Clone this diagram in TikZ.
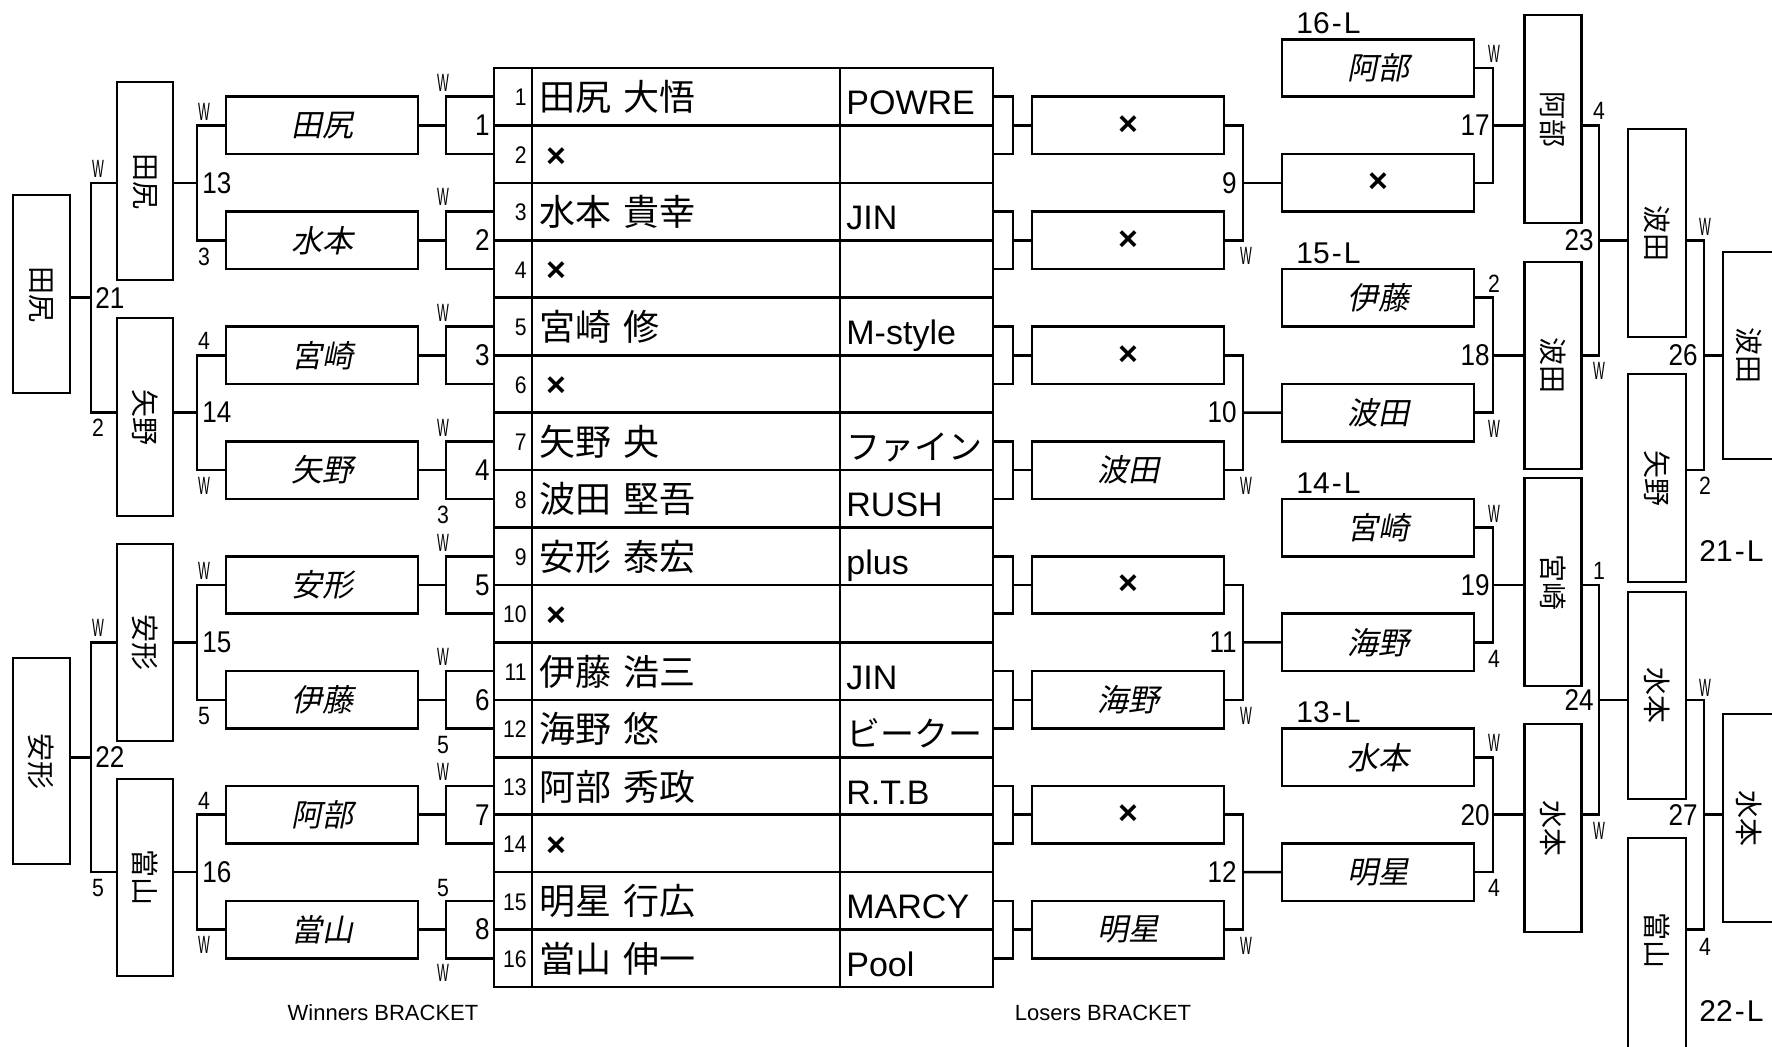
\documentclass[tikz,border=0pt]{standalone}
\usepackage{fontspec}
\setmainfont{Liberation Sans}
\newfontfamily\cjk{Noto Sans CJK JP}
\newfontfamily\cjkit[FakeSlant=0.2]{Noto Sans CJK JP}
\usetikzlibrary{calc}
\newcommand\pxu{0.5pt}
\begin{document}
\begin{tikzpicture}[x=0.5pt,y=-0.5pt,
  bx/.style={draw,line width=1.3pt,inner sep=0pt,outer sep=0pt,rectangle},
  ln/.style={line width=1.3pt},
  itn/.style={font=\cjkit\fontsize{15.5}{15.5}\selectfont,inner sep=0pt},
  vtn/.style={font=\cjk\fontsize{14}{14}\selectfont,rotate=-90,inner sep=0pt},
  wl/.style={font=\fontsize{12.5}{12.5}\selectfont,xscale=0.5,inner sep=0pt},
  sc/.style={font=\fontsize{12.5}{12.5}\selectfont,xscale=0.85,inner sep=0pt},
  num/.style={font=\fontsize{15}{15}\selectfont,xscale=0.87,inner sep=0pt},
  xm/.style={font=\bfseries\fontsize{17}{17}\selectfont,inner sep=0pt},
  lbl/.style={font=\fontsize{15}{15}\selectfont,inner sep=0pt,anchor=base west},
  capt/.style={font=\fontsize{11}{11}\selectfont,inner sep=0pt,anchor=base},
  seed/.style={font=\fontsize{12}{12}\selectfont,xscale=0.88,inner sep=0pt},
  pname/.style={font=\cjk\fontsize{18}{18}\selectfont,inner sep=0pt,anchor=base west},
  team/.style={font=\fontsize{17}{17}\selectfont,inner sep=0pt,anchor=base west},
  pair/.style={bx,minimum width=192*\pxu,minimum height=57.44*\pxu}
]
\fill[white] (0,0) rectangle (1772,1046);
\useasboundingbox (0,0) rectangle (1772,1046);

% ---------- table ----------
\foreach \i in {1,...,16}{
  \pgfmathsetmacro{\yc}{68+(\i-0.5)*57.44}
  \node[bx,minimum width=38*\pxu,minimum height=57.44*\pxu] (nc\i) at (513,\yc) {};
  \node[bx,minimum width=308*\pxu,minimum height=57.44*\pxu] (mc\i) at (686,\yc) {};
  \node[bx,minimum width=153*\pxu,minimum height=57.44*\pxu] (tc\i) at (916.5,\yc) {};
  \node[seed,anchor=east] (sd\i) at (527,\yc+1) {\i};
}
\foreach \i/\fa/\gv in {1/田尻/大悟,3/水本/貴幸,5/宮崎/修,7/矢野/央,8/波田/堅吾,9/安形/泰宏,11/伊藤/浩三,12/海野/悠,13/阿部/秀政,15/明星/行広,16/當山/伸一}{
  \pgfmathsetmacro{\yc}{68+(\i-0.5)*57.44}
  \node[pname] (pn\i) at (539,\yc+14) {\fa\hspace{6pt}\gv};
}
\foreach \i in {2,4,6,10,14}{
  \pgfmathsetmacro{\yc}{68+(\i-0.5)*57.44}
  \node[xm] (pn\i) at (556,\yc+3) {×};
}
\foreach \i/\tm in {1/POWRE,3/JIN,5/M-style,7/{\cjk ファイン},8/RUSH,9/plus,11/JIN,12/{\cjk ビークー},13/R.T.B,15/MARCY,16/Pool}{
  \pgfmathsetmacro{\yc}{68+(\i-0.5)*57.44}
  \node[team] (tm\i) at (846,\yc+18) {\tm};
}

% ---------- winners: round 1 brackets and round 2 boxes ----------
\foreach \k in {1,...,8}{
  \pgfmathsetmacro{\yb}{68+(2*\k-1)*57.44}
  \pgfmathtruncatemacro{\ia}{2*\k-1}
  \pgfmathtruncatemacro{\ib}{2*\k}
  \node[pair] (w\k) at (322,\yb) {};
  \coordinate (jr\k) at (446,\yb);
  \draw[ln] (nc\ia.west) -| (jr\k) |- (nc\ib.west);
  \draw[ln] (w\k.east) -- (jr\k);
  \node[num,anchor=east] (rn\k) at (490,\yb) {\k};
}
\foreach \k/\nm in {1/田尻,2/水本,3/宮崎,4/矢野,5/安形,6/伊藤,7/阿部,8/當山}{
  \node[itn] (wt\k) at (w\k) {\nm};
}

% semis and final boxes
\node[bx,minimum width=56*\pxu,minimum height=198*\pxu] (ws1) at (145,181) {};
\node[bx,minimum width=56*\pxu,minimum height=198*\pxu] (ws2) at (145,417) {};
\node[bx,minimum width=56*\pxu,minimum height=197*\pxu] (ws3) at (145,642.5) {};
\node[bx,minimum width=56*\pxu,minimum height=197*\pxu] (ws4) at (145,877.5) {};
\node[bx,minimum width=57*\pxu,minimum height=198*\pxu] (wf1) at (41.5,294) {};
\node[bx,minimum width=57*\pxu,minimum height=206*\pxu] (wf2) at (41.5,761) {};
\node[vtn] (wst1) at (ws1) {田尻};
\node[vtn] (wst2) at (ws2) {矢野};
\node[vtn] (wst3) at (ws3) {安形};
\node[vtn] (wst4) at (ws4) {當山};
\node[vtn] (wft1) at (wf1) {田尻};
\node[vtn] (wft2) at (wf2) {安形};

\coordinate (j13) at (197,182.88);
\coordinate (j14) at (197,412.64);
\coordinate (j15) at (197,642.4);
\coordinate (j16) at (197,872.16);
\draw[ln] (w1.west) -| (j13) |- (w2.west);
\draw[ln] (w3.west) -| (j14) |- (w4.west);
\draw[ln] (w5.west) -| (j15) |- (w6.west);
\draw[ln] (w7.west) -| (j16) |- (w8.west);
\draw[ln] (j13) -- (j13 -| ws1.east);
\draw[ln] (j14) -- (j14 -| ws2.east);
\draw[ln] (j15) -- (j15 -| ws3.east);
\draw[ln] (j16) -- (j16 -| ws4.east);
\coordinate (j21) at (91,297.76);
\coordinate (j22) at (91,757.28);
\draw[ln] (j13 -| ws1.west) -| (j21) |- (j14 -| ws2.west);
\draw[ln] (j15 -| ws3.west) -| (j22) |- (j16 -| ws4.west);
\draw[ln] (j21) -- (j21 -| wf1.east);
\draw[ln] (j22) -- (j22 -| wf2.east);

\node[num,anchor=west] (g13) at (202,182.88) {13};
\node[num,anchor=west] (g14) at (202,412.64) {14};
\node[num,anchor=west] (g15) at (202,642.4) {15};
\node[num,anchor=west] (g16) at (202,872.16) {16};
\node[num,anchor=west] (g21) at (95,297.76) {21};
\node[num,anchor=west] (g22) at (95,757.28) {22};

% W / score labels, winners side
\foreach \x/\y/\t [count=\c] in {443/83/W,443/197/W,443/313/W,443/428/W,443/543/W,443/657/W,443/772/W,443/973/W,
  204/112/W,204/486/W,204/571/W,204/945/W,98/169/W,98/628/W}{
  \node[wl] (wa\c) at (\x,\y) {\t};
}
\foreach \x/\y/\t [count=\c] in {443/515/3,443/745/5,443/888/5,204/257/3,204/341/4,204/716/5,204/801/4,98/428/2,98/888/5}{
  \node[sc] (sa\c) at (\x,\y) {\t};
}

% ---------- losers: round 1 ----------
\foreach \k in {1,...,8}{
  \pgfmathsetmacro{\yb}{68+(2*\k-1)*57.44}
  \pgfmathtruncatemacro{\ia}{2*\k-1}
  \pgfmathtruncatemacro{\ib}{2*\k}
  \node[pair] (la\k) at (1128,\yb) {};
  \coordinate (jl\k) at (1013,\yb);
  \draw[ln] (tc\ia.east) -| (jl\k) |- (tc\ib.east);
  \draw[ln] (jl\k) -- (la\k.west);
}
\foreach \k in {1,2,3,5,7}{ \node[xm] (lat\k) at (la\k) {×}; }
\node[itn] (lat4) at (la4) {波田};
\node[itn] (lat6) at (la6) {海野};
\node[itn] (lat8) at (la8) {明星};

% losers round 2 boxes
\foreach \k in {1,...,8}{
  \pgfmathsetmacro{\yb}{68+(2*\k-2)*57.44}
  \node[pair] (lb\k) at (1378,\yb) {};
}
\node[itn] (lbt1) at (lb1) {阿部};
\node[xm] (lbt2) at (lb2) {×};
\node[itn] (lbt3) at (lb3) {伊藤};
\node[itn] (lbt4) at (lb4) {波田};
\node[itn] (lbt5) at (lb5) {宮崎};
\node[itn] (lbt6) at (lb6) {海野};
\node[itn] (lbt7) at (lb7) {水本};
\node[itn] (lbt8) at (lb8) {明星};
\node[lbl] (ll16) at (1296,33) {16\kern1pt-\kern1pt L};
\node[lbl] (ll15) at (1296,263) {15\kern1pt-\kern1pt L};
\node[lbl] (ll14) at (1296,493) {14\kern1pt-\kern1pt L};
\node[lbl] (ll13) at (1296,722) {13\kern1pt-\kern1pt L};

\coordinate (j9) at (1243,182.88);
\coordinate (j10) at (1243,412.64);
\coordinate (j11) at (1243,642.4);
\coordinate (j12) at (1243,872.16);
\draw[ln] (la1.east) -| (j9) |- (la2.east);
\draw[ln] (la3.east) -| (j10) |- (la4.east);
\draw[ln] (la5.east) -| (j11) |- (la6.east);
\draw[ln] (la7.east) -| (j12) |- (la8.east);
\draw[ln] (j9) -- (lb2.west);
\draw[ln] (j10) -- (lb4.west);
\draw[ln] (j11) -- (lb6.west);
\draw[ln] (j12) -- (lb8.west);
\node[num,anchor=east] (g9) at (1237,182.88) {9};
\node[num,anchor=east] (g10) at (1237,412.64) {10};
\node[num,anchor=east] (g11) at (1237,642.4) {11};
\node[num,anchor=east] (g12) at (1237,872.16) {12};

% losers round 3 boxes
\node[bx,minimum width=57*\pxu,minimum height=208*\pxu] (lc1) at (1553,119) {};
\node[bx,minimum width=57*\pxu,minimum height=207*\pxu] (lc2) at (1553,365.5) {};
\node[bx,minimum width=57*\pxu,minimum height=208*\pxu] (lc3) at (1553,582) {};
\node[bx,minimum width=57*\pxu,minimum height=208*\pxu] (lc4) at (1553,828) {};
\node[vtn] (lct1) at (lc1) {阿部};
\node[vtn] (lct2) at (lc2) {波田};
\node[vtn] (lct3) at (lc3) {宮崎};
\node[vtn] (lct4) at (lc4) {水本};

\coordinate (j17) at (1493,125.44);
\coordinate (j18) at (1493,355.2);
\coordinate (j19) at (1493,584.96);
\coordinate (j20) at (1493,814.72);
\draw[ln] (lb1.east) -| (j17) |- (lb2.east);
\draw[ln] (lb3.east) -| (j18) |- (lb4.east);
\draw[ln] (lb5.east) -| (j19) |- (lb6.east);
\draw[ln] (lb7.east) -| (j20) |- (lb8.east);
\draw[ln] (j17) -- (j17 -| lc1.west);
\draw[ln] (j18) -- (j18 -| lc2.west);
\draw[ln] (j19) -- (j19 -| lc3.west);
\draw[ln] (j20) -- (j20 -| lc4.west);
\node[num,anchor=east] (g17) at (1490,125.44) {17};
\node[num,anchor=east] (g18) at (1490,355.2) {18};
\node[num,anchor=east] (g19) at (1490,584.96) {19};
\node[num,anchor=east] (g20) at (1490,814.72) {20};

% losers round 4 boxes
\node[bx,minimum width=58*\pxu,minimum height=208*\pxu] (ld1) at (1657,233) {};
\node[bx,minimum width=58*\pxu,minimum height=208*\pxu] (ld2) at (1657,478) {};
\node[bx,minimum width=58*\pxu,minimum height=207*\pxu] (ld3) at (1657,695.5) {};
\node[bx,minimum width=58*\pxu,minimum height=212*\pxu] (ld4) at (1657,944) {};
\node[vtn] (ldt1) at (ld1) {波田};
\node[vtn] (ldt2) at (ld2) {矢野};
\node[vtn] (ldt3) at (ld3) {水本};
\node[vtn] (ldt4) at (1657,940) {當山};

\coordinate (j23) at (1599,240.32);
\coordinate (j24) at (1599,699.84);
\draw[ln] (j17 -| lc1.east) -| (j23) |- (j18 -| lc2.east);
\draw[ln] (j19 -| lc3.east) -| (j24) |- (j20 -| lc4.east);
\draw[ln] (j23) -- (j23 -| ld1.west);
\draw[ln] (j24) -- (j24 -| ld3.west);
\node[num,anchor=east] (g23) at (1594,240.32) {23};
\node[num,anchor=east] (g24) at (1594,699.84) {24};

% finals
\node[bx,minimum width=64*\pxu,minimum height=207*\pxu] (le1) at (1755,355.5) {};
\node[bx,minimum width=64*\pxu,minimum height=208*\pxu] (le2) at (1755,818) {};
\node[vtn] (let1) at (1749,355.5) {波田};
\node[vtn] (let2) at (1749,818) {水本};
\coordinate (y7) at (0,470.08);
\coordinate (y15) at (0,929.6);
\coordinate (j26) at (1704,355.2);
\coordinate (j27) at (1704,814.72);
\draw[ln] (j23 -| ld1.east) -| (j26) |- (ld2.east |- y7);
\draw[ln] (j24 -| ld3.east) -| (j27) |- (ld4.east |- y15);
\draw[ln] (j26) -- (j26 -| le1.west);
\draw[ln] (j27) -- (j27 -| le2.west);
\node[num,anchor=east] (g26) at (1698,355.2) {26};
\node[num,anchor=east] (g27) at (1698,814.72) {27};
\node[lbl] (ll21) at (1699,561) {21\kern1pt-\kern1pt L};
\node[lbl] (ll22) at (1699,1021) {22\kern1pt-\kern1pt L};

% W / score labels, losers side
\foreach \x/\y/\t [count=\c] in {1246/256/W,1246/486/W,1246/716/W,1246/946/W,1494/54/W,1494/429/W,1494/514/W,1494/743/W,
  1599/371/W,1599/831/W,1705/227/W,1705/688/W}{
  \node[wl] (wb\c) at (\x,\y) {\t};
}
\foreach \x/\y/\t [count=\c] in {1494/284/2,1494/659/4,1494/888/4,1599/111/4,1599/571/1,1705/486/2,1705/947/4}{
  \node[sc] (sb\c) at (\x,\y) {\t};
}

% captions
\node[capt] (cw) at (383,1020) {Winners BRACKET};
\node[capt] (cl) at (1103,1020) {Losers BRACKET};
\end{tikzpicture}
\end{document}
